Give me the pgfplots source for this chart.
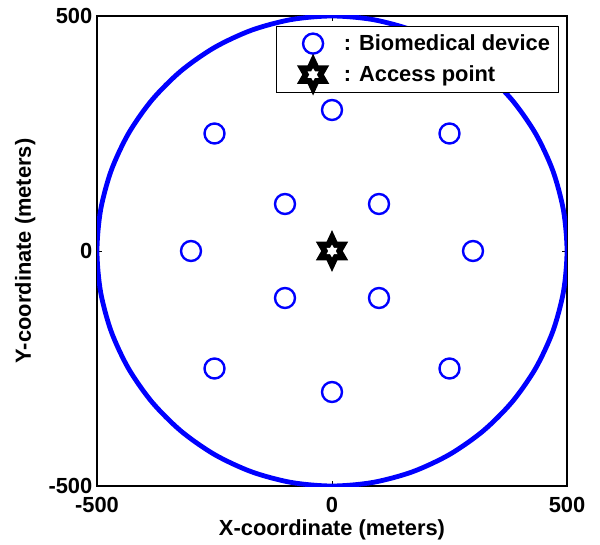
\documentclass[border=0pt]{standalone}
\usepackage{fontspec}
\setmainfont{Liberation Sans}
\usepackage{pgfplots}
\pgfplotsset{compat=1.18}
\usetikzlibrary{calc}
\pgfdeclareplotmark{hexagram}{%
  \pgfsetfillcolor{black}%
  \pgfpathmoveto{\pgfpointpolar{90}{1.12\pgfplotmarksize}}%
  \pgfpathlineto{\pgfpointpolar{60}{0.577\pgfplotmarksize}}%
  \pgfpathlineto{\pgfpointpolar{30}{\pgfplotmarksize}}%
  \pgfpathlineto{\pgfpointpolar{0}{0.577\pgfplotmarksize}}%
  \pgfpathlineto{\pgfpointpolar{-30}{\pgfplotmarksize}}%
  \pgfpathlineto{\pgfpointpolar{-60}{0.577\pgfplotmarksize}}%
  \pgfpathlineto{\pgfpointpolar{-90}{1.12\pgfplotmarksize}}%
  \pgfpathlineto{\pgfpointpolar{-120}{0.577\pgfplotmarksize}}%
  \pgfpathlineto{\pgfpointpolar{-150}{\pgfplotmarksize}}%
  \pgfpathlineto{\pgfpointpolar{180}{0.577\pgfplotmarksize}}%
  \pgfpathlineto{\pgfpointpolar{150}{\pgfplotmarksize}}%
  \pgfpathlineto{\pgfpointpolar{120}{0.577\pgfplotmarksize}}%
  \pgfpathclose
  \pgfusepathqfill
  \pgfsetfillcolor{white}%
  \pgfpathmoveto{\pgfpointpolar{90}{0.34\pgfplotmarksize}}%
  \pgfpathlineto{\pgfpointpolar{60}{0.2\pgfplotmarksize}}%
  \pgfpathlineto{\pgfpointpolar{30}{0.34\pgfplotmarksize}}%
  \pgfpathlineto{\pgfpointpolar{0}{0.2\pgfplotmarksize}}%
  \pgfpathlineto{\pgfpointpolar{-30}{0.34\pgfplotmarksize}}%
  \pgfpathlineto{\pgfpointpolar{-60}{0.2\pgfplotmarksize}}%
  \pgfpathlineto{\pgfpointpolar{-90}{0.34\pgfplotmarksize}}%
  \pgfpathlineto{\pgfpointpolar{-120}{0.2\pgfplotmarksize}}%
  \pgfpathlineto{\pgfpointpolar{-150}{0.34\pgfplotmarksize}}%
  \pgfpathlineto{\pgfpointpolar{180}{0.2\pgfplotmarksize}}%
  \pgfpathlineto{\pgfpointpolar{150}{0.34\pgfplotmarksize}}%
  \pgfpathlineto{\pgfpointpolar{120}{0.2\pgfplotmarksize}}%
  \pgfpathclose
  \pgfusepathqfill
}
\begin{document}
\begin{tikzpicture}
\begin{axis}[
  name=ax,
  scale only axis,
  width=352.5pt, height=352.5pt,
  xmin=-500, xmax=500, ymin=-500, ymax=500,
  xtick={-500,0,500}, ytick={-500,0,500},
  axis line style={line width=0.9pt},
  major tick style={line width=0.6pt, black},
  major tick length=4pt,
  tick align=inside,
  /pgf/number format/assume math mode=true,
  every tick label/.append style={font=\fontsize{16.4}{19}\selectfont\bfseries},
  xticklabel style={yshift=-5pt},
  label style={font=\fontsize{16.4}{19}\selectfont\bfseries},
  xlabel={X-coordinate (meters)},
  ylabel={Y-coordinate (meters)},
  xlabel style={yshift=2pt},
  ylabel style={yshift=3pt},
  legend style={at={(0.983,0.979)}, anchor=north east, draw=black, line width=0.6pt,
    font=\fontsize{16.4}{19}\selectfont\bfseries, inner xsep=4.5pt, inner ysep=2pt,
    /tikz/column sep=7pt, /tikz/row sep=1.25pt, cells={anchor=west}},
  legend image code/.code={\path[draw=none] (-23pt,-11pt) rectangle (14pt,11pt); \draw[#1, overlay] plot coordinates {(0pt,0pt)};},
]
\addplot[blue, line width=3.6pt, smooth cycle, forget plot] coordinates {
(500,0) (492.40,86.82) (469.85,171.01) (433.01,250) (383.02,321.39) (321.39,383.02)
(250,433.01) (171.01,469.85) (86.82,492.40) (0,500) (-86.82,492.40) (-171.01,469.85)
(-250,433.01) (-321.39,383.02) (-383.02,321.39) (-433.01,250) (-469.85,171.01) (-492.40,86.82)
(-500,0) (-492.40,-86.82) (-469.85,-171.01) (-433.01,-250) (-383.02,-321.39) (-321.39,-383.02)
(-250,-433.01) (-171.01,-469.85) (-86.82,-492.40) (0,-500) (86.82,-492.40) (171.01,-469.85)
(250,-433.01) (321.39,-383.02) (383.02,-321.39) (433.01,-250) (469.85,-171.01) (492.40,-86.82)
};
\addplot[only marks, mark=o, mark size=7.5pt, mark options={blue, line width=1.8pt}] coordinates {
(0,300) (-250,250) (250,250) (-100,100) (100,100) (-300,0) (300,0)
(-100,-100) (100,-100) (-250,-250) (250,-250) (0,-300)
};
\addlegendentry{: Biomedical device}
\addplot[only marks, mark=hexagram, mark size=14pt] coordinates {(0,0)};
\addlegendentry{: Access point}
\end{axis}
\path ($(ax.south west)+(-72.75pt,-42pt)$) rectangle ($(ax.north east)+(24.75pt,12pt)$);
\end{tikzpicture}
\end{document}
